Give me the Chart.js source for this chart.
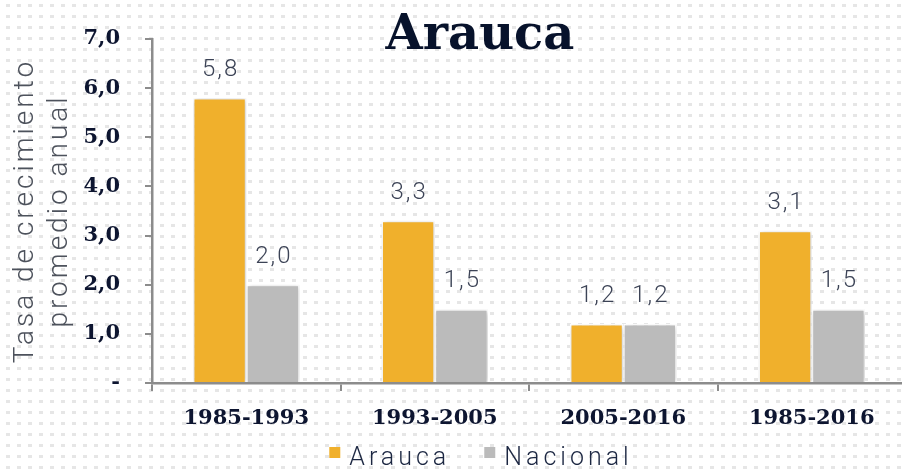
<!DOCTYPE html>
<html>
<head>
<meta charset="utf-8">
<script src="https://cdn.jsdelivr.net/npm/chart.js@4/dist/chart.umd.min.js"></script>
<style>
  html, body { margin: 0; padding: 0; overflow: hidden; background: #fff; }
  #wrap { width: 906px; height: 470px; }
</style>
</head>
<body>
<div id="wrap"><canvas id="chart" width="906" height="470"></canvas></div>
<script>
const periods = ['1985-1993', '1993-2005', '2005-2016', '1985-2016'];
const arauca = [5.8, 3.3, 1.2, 3.1];
const nacional = [2.0, 1.5, 1.2, 1.5];
const yTickLabels = ['-', '1,0', '2,0', '3,0', '4,0', '5,0', '6,0', '7,0'];
const titleText = 'Arauca';
const yTitleLines = ['Tasa de crecimiento', 'promedio anual'];

const NAVY = '#0d1530';
const LIGHT_FONT = 'Roboto, "Open Sans", sans-serif';

// dotted background like the original
const dotsBg = {
  id: 'dotsBg',
  beforeDraw(chart) {
    const ctx = chart.ctx;
    ctx.save();
    ctx.fillStyle = '#ffffff';
    ctx.fillRect(0, 0, chart.width, chart.height);
    ctx.fillStyle = '#e6e6e6';
    for (let y = 4; y < chart.height; y += 11) {
      for (let x = 6; x < chart.width; x += 11) {
        ctx.fillRect(x, y, 4, 3);
      }
    }
    ctx.restore();
  }
};

// soft shadow behind the bars
const barShadow = {
  id: 'barShadow',
  beforeDatasetsDraw(chart) {
    const ctx = chart.ctx;
    ctx.save();
    ctx.shadowColor = 'rgba(0,0,0,0.22)';
    ctx.shadowBlur = 5;
    ctx.shadowOffsetX = 1;
    ctx.shadowOffsetY = 1;
  },
  afterDatasetsDraw(chart) {
    chart.ctx.restore();
  }
};

function fmt(v) {
  return v.toFixed(1).replace('.', ',');
}

const extras = {
  id: 'extras',
  afterDraw(chart) {
    const ctx = chart.ctx;
    ctx.save();

    // value labels
    ctx.font = '300 24px ' + LIGHT_FONT;
    ctx.letterSpacing = '2px';
    ctx.fillStyle = '#3c4356';
    ctx.textAlign = 'center';
    ctx.textBaseline = 'middle';
    chart.data.datasets.forEach((ds, i) => {
      chart.getDatasetMeta(i).data.forEach((bar, j) => {
        ctx.fillText(fmt(ds.data[j]), bar.x + 1, bar.y - 28);
      });
    });

    // chart title
    ctx.letterSpacing = '0px';
    ctx.font = 'bold 48px "DejaVu Serif", serif';
    ctx.fillStyle = '#07122b';
    ctx.textBaseline = 'alphabetic';
    ctx.fillText(titleText, 480, 49);

    // y axis title, two rotated lines
    ctx.font = '300 28px ' + LIGHT_FONT;
    ctx.letterSpacing = '3px';
    ctx.fillStyle = '#4d525c';
    const midY = (chart.chartArea.top + chart.chartArea.bottom) / 2;
    [33, 67].forEach((bx, k) => {
      ctx.save();
      ctx.translate(bx, midY);
      ctx.rotate(-Math.PI / 2);
      ctx.textAlign = 'center';
      ctx.fillText(yTitleLines[k], 0, 0);
      ctx.restore();
    });

    // legend
    ctx.font = '300 25px ' + LIGHT_FONT;
    ctx.letterSpacing = '4px';
    ctx.textAlign = 'left';
    ctx.textBaseline = 'alphabetic';
    const items = chart.data.datasets.map(ds => ({
      label: ds.label, color: ds.backgroundColor, w: ctx.measureText(ds.label).width
    }));
    const box = 11, gap = 9, spacing = 34;
    let total = 0;
    items.forEach((it, k) => { total += box + gap + it.w + (k ? spacing : 0); });
    let x = 481 - total / 2;
    items.forEach(it => {
      ctx.fillStyle = it.color;
      ctx.fillRect(x, 447, box, box);
      ctx.fillStyle = '#1c2742';
      ctx.fillText(it.label, x + box + gap, 465);
      x += box + gap + it.w + spacing;
    });

    ctx.restore();
  }
};

new Chart(document.getElementById('chart'), {
  type: 'bar',
  data: {
    labels: periods,
    datasets: [
      {
        label: 'Arauca',
        data: arauca,
        backgroundColor: '#f0b02c',
        borderColor: '#ffffff',
        borderWidth: 1.5,
        categoryPercentage: 0.565,
        barPercentage: 1.0
      },
      {
        label: 'Nacional',
        data: nacional,
        backgroundColor: '#bbbbbb',
        borderColor: '#ffffff',
        borderWidth: 1.5,
        categoryPercentage: 0.565,
        barPercentage: 1.0
      }
    ]
  },
  options: {
    responsive: false,
    animation: false,
    devicePixelRatio: 1,
    layout: { padding: { top: 39, right: 0, bottom: 0, left: 0 } },
    plugins: {
      legend: { display: false },
      title: { display: false },
      tooltip: { enabled: false }
    },
    scales: {
      x: {
        grid: {
          display: true,
          drawOnChartArea: false,
          offset: true,
          color: '#8c8c8c',
          lineWidth: 2,
          tickLength: 8
        },
        border: { color: '#8c8c8c', width: 2.5 },
        ticks: {
          color: NAVY,
          font: { family: '"DejaVu Serif", serif', size: 21, weight: 'bold' },
          padding: 15,
          maxRotation: 0
        },
        afterFit(scale) { scale.height = 87; }
      },
      y: {
        min: 0,
        max: 7,
        grid: {
          display: true,
          drawOnChartArea: false,
          color: '#8c8c8c',
          lineWidth: 2,
          tickLength: 7
        },
        border: { color: '#8c8c8c', width: 2.5 },
        ticks: {
          stepSize: 1,
          color: NAVY,
          padding: 25,
          font: { family: '"DejaVu Serif", serif', size: 21, weight: 'bold' },
          callback: (v, i) => yTickLabels[i]
        },
        afterFit(scale) { scale.width = 152; }
      }
    }
  },
  plugins: [dotsBg, barShadow, extras]
});
</script>
</body>
</html>
